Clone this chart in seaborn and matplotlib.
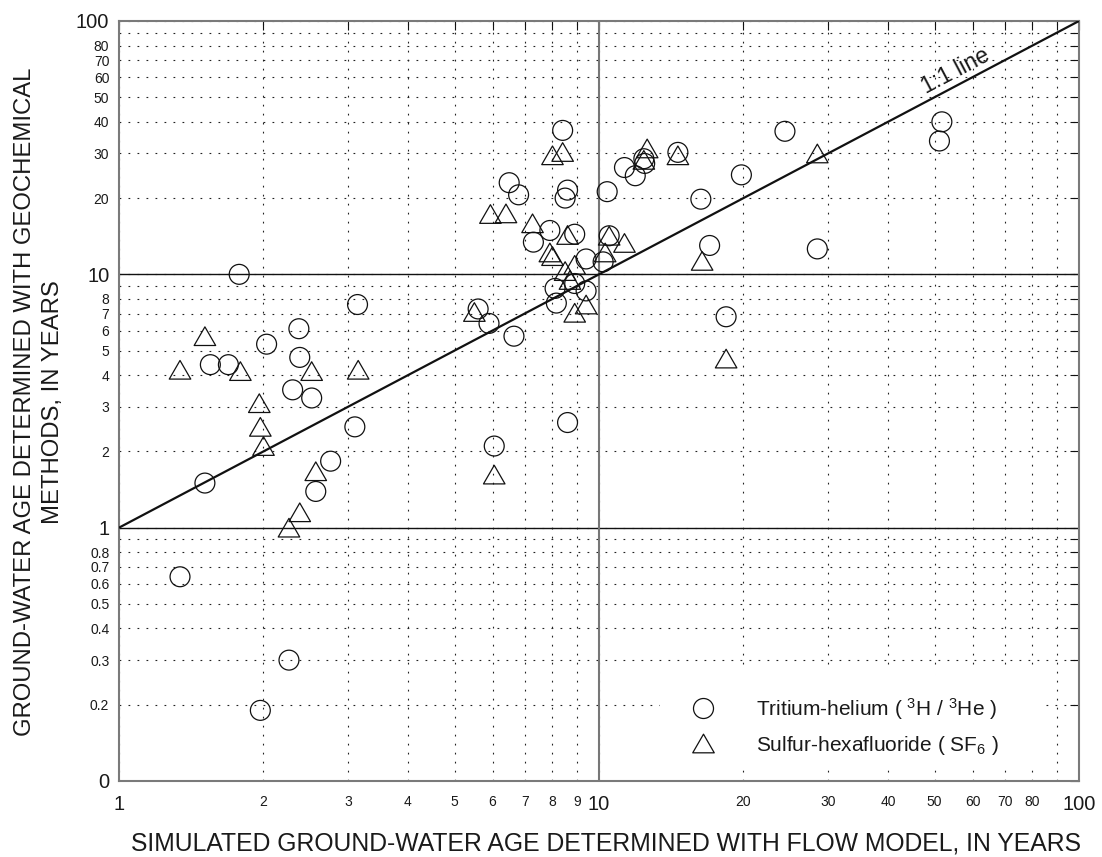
import numpy as np
import pandas as pd
import matplotlib
matplotlib.use("Agg")
import matplotlib.pyplot as plt
import seaborn as sns
from matplotlib.lines import Line2D
from matplotlib.path import Path
from matplotlib.patches import Rectangle
from matplotlib.ticker import FixedLocator, FixedFormatter, NullLocator

# ---------------- data ----------------
# Tritium-helium (3H/3He): simulated age (flow model), geochemical age
th_sim = [1.78, 3.14, 2.37, 2.03, 2.38, 1.55, 1.69, 2.30, 2.52, 3.10, 2.76, 2.57, 1.51,
          1.34, 2.26, 1.97,
          8.4, 6.5, 6.8, 8.6, 8.5, 10.4, 7.9, 7.3, 8.9, 10.5, 9.4, 10.2, 8.1, 8.15, 8.9, 9.4,
          5.6, 5.9, 6.65, 8.6, 6.05,
          24.4, 19.8, 16.3, 17.0, 28.5, 14.6, 11.3, 11.9, 12.4, 12.45, 18.4, 51.8, 51.2]
th_geo = [10.0, 7.6, 6.1, 5.3, 4.7, 4.4, 4.4, 3.5, 3.25, 2.5, 1.83, 1.39, 1.5,
          0.64, 0.30, 0.19,
          37.0, 23.0, 20.6, 21.5, 20.0, 21.2, 14.9, 13.4, 14.4, 14.2, 11.5, 11.2, 8.8, 7.7, 9.2, 8.6,
          7.3, 6.4, 5.7, 2.6, 2.1,
          36.7, 24.7, 19.8, 13.0, 12.6, 30.3, 26.4, 24.5, 28.6, 27.4, 6.8, 40.0, 33.6]

# Sulfur-hexafluoride (SF6)
sf_sim = [1.51, 1.34, 1.79, 2.52, 3.15, 1.96, 1.97, 2.0, 2.57, 2.38, 2.26,
          8.0, 8.4, 5.94, 6.4, 7.27, 8.6, 7.9, 8.0, 8.9, 8.5, 10.3, 10.5, 8.7, 9.4, 8.9, 5.5, 6.05,
          16.4, 28.5, 14.6, 12.6, 12.4, 11.3, 18.4]
sf_geo = [5.7, 4.2, 4.15, 4.15, 4.2, 3.1, 2.5, 2.1, 1.67, 1.15, 1.0,
          29.5, 30.4, 17.3, 17.4, 15.9, 14.3, 12.2, 11.8, 10.9, 10.3, 12.2, 14.2, 9.5, 7.6, 7.05, 7.1, 1.62,
          11.3, 30.0, 29.5, 31.4, 28.3, 13.3, 4.65]

one_to_one = [1, 100]

x_ticks = [1, 2, 3, 4, 5, 6, 7, 8, 9, 10, 20, 30, 40, 50, 60, 70, 80, 90, 100]
x_labels = ["1", "2", "3", "4", "5", "6", "7", "8", "9", "10",
            "20", "30", "40", "50", "60", "70", "80", "", "100"]
y_ticks = [0.1, 0.2, 0.3, 0.4, 0.5, 0.6, 0.7, 0.8, 0.9,
           1, 2, 3, 4, 5, 6, 7, 8, 9,
           10, 20, 30, 40, 50, 60, 70, 80, 90, 100]
y_labels = ["0", "0.2", "0.3", "0.4", "0.5", "0.6", "0.7", "0.8", "",
            "1", "2", "3", "4", "5", "6", "7", "8", "",
            "10", "20", "30", "40", "50", "60", "70", "80", "", "100"]
big_labels = {"0", "1", "10", "100"}

df_th = pd.DataFrame({"sim": th_sim, "geo": th_geo})
df_sf = pd.DataFrame({"sim": sf_sim, "geo": sf_geo})

# ---------------- style ----------------
sns.set_style("white")
plt.rcParams["font.family"] = ["Liberation Sans", "DejaVu Sans"]
plt.rcParams["mathtext.fontset"] = "custom"
plt.rcParams["mathtext.rm"] = "Liberation Sans"
plt.rcParams["mathtext.it"] = "Liberation Sans:italic"
plt.rcParams["text.color"] = "#1a1a1a"

W, H = 1102, 857
fig = plt.figure(figsize=(W / 100, H / 100), dpi=100)
ax = fig.add_axes([119 / W, 1 - 781 / H, (1079 - 119) / W, (781 - 21) / H])

# triangle marker (equilateral-ish)
tri = Path([(-1, -0.866), (1, -0.866), (0, 0.866), (-1, -0.866)],
           [Path.MOVETO, Path.LINETO, Path.LINETO, Path.CLOSEPOLY])

sns.scatterplot(data=df_th, x="sim", y="geo", ax=ax, marker="o", s=205,
                color="none", edgecolor="#111111", linewidth=0.9, zorder=4, legend=False)
sns.scatterplot(data=df_sf, x="sim", y="geo", ax=ax, marker=tri, s=240,
                color="none", edgecolor="#111111", linewidth=0.9, zorder=4, legend=False)

ax.set_xscale("log")
ax.set_yscale("log")
ax.set_xlim(1, 100)
ax.set_ylim(0.1, 100)

ax.xaxis.set_major_locator(FixedLocator(x_ticks))
ax.xaxis.set_major_formatter(FixedFormatter(x_labels))
ax.yaxis.set_major_locator(FixedLocator(y_ticks))
ax.yaxis.set_major_formatter(FixedFormatter(y_labels))
ax.xaxis.set_minor_locator(NullLocator())
ax.yaxis.set_minor_locator(NullLocator())

ax.tick_params(which="major", direction="in", length=6.5, width=0.8, color="#111111",
               top=True, right=True, labelsize=10, labelcolor="#1a1a1a")
ax.tick_params(axis="x", pad=10)
ax.tick_params(axis="y", pad=7)

fig.canvas.draw()
for lab in ax.get_xticklabels() + ax.get_yticklabels():
    if lab.get_text() in big_labels:
        lab.set_fontsize(14.5)

# dotted grid
ax.grid(True, which="major", color="#222222", linewidth=0.8, linestyle=(0, (1.6, 6.5)))
ax.set_axisbelow(True)

# solid decade lines
ax.axhline(10, color="#111111", lw=1.0, zorder=2)
ax.axhline(1, color="#111111", lw=1.0, zorder=2)
ax.axvline(10, color="#777777", lw=1.5, zorder=2)

for sp in ax.spines.values():
    sp.set_color("#7a7a7a")
    sp.set_linewidth(1.5)

# 1:1 line
sns.lineplot(x=one_to_one, y=one_to_one, ax=ax, color="#111111", lw=1.6, zorder=3)
p1 = ax.transData.transform((1, 1))
p2 = ax.transData.transform((100, 100))
ang = np.degrees(np.arctan2(p2[1] - p1[1], p2[0] - p1[0]))
ax.text(55.4, 63.4, "1:1 line", rotation=ang, rotation_mode="anchor",
        ha="center", va="center", fontsize=16.5, zorder=5)

ax.set_xlabel("")
ax.set_ylabel("")
fig.text(606 / W, 1 - 843 / H, "SIMULATED GROUND-WATER AGE DETERMINED WITH FLOW MODEL, IN YEARS",
         ha="center", va="center", fontsize=17.8)
fig.text(39 / W, 1 - 402 / H,
         "GROUND-WATER AGE DETERMINED WITH GEOCHEMICAL\nMETHODS, IN YEARS",
         ha="center", va="center", rotation=90, fontsize=17.2, multialignment="center",
         linespacing=1.4)

# white area behind the legend (hides grid there)
ax.add_patch(Rectangle((660 / W, 1 - 770 / H), (1043 - 660) / W, (770 - 668) / H,
                       transform=fig.transFigure, facecolor="white", edgecolor="none",
                       zorder=1))

# legend
h1 = Line2D([], [], marker="o", ls="none", markersize=14.4, markerfacecolor="none",
            markeredgecolor="#111111", markeredgewidth=0.9)
h2 = Line2D([], [], marker=tri, ls="none", markersize=15.5, markerfacecolor="none",
            markeredgecolor="#111111", markeredgewidth=0.9)
leg = ax.legend([h1, h2],
                [r"Tritium-helium ( $\mathregular{^{3}}$H / $\mathregular{^{3}}$He )",
                 r"Sulfur-hexafluoride ( SF$\mathregular{_{6}}$ )"],
                loc="upper left", bbox_to_anchor=(692.6 / W, 1 - 696 / H),
                bbox_transform=fig.transFigure, frameon=False, fontsize=15,
                handlelength=1.0, handletextpad=2.05, labelspacing=0.57, borderpad=0,
                borderaxespad=0)

fig.savefig("out.png", dpi=100)
